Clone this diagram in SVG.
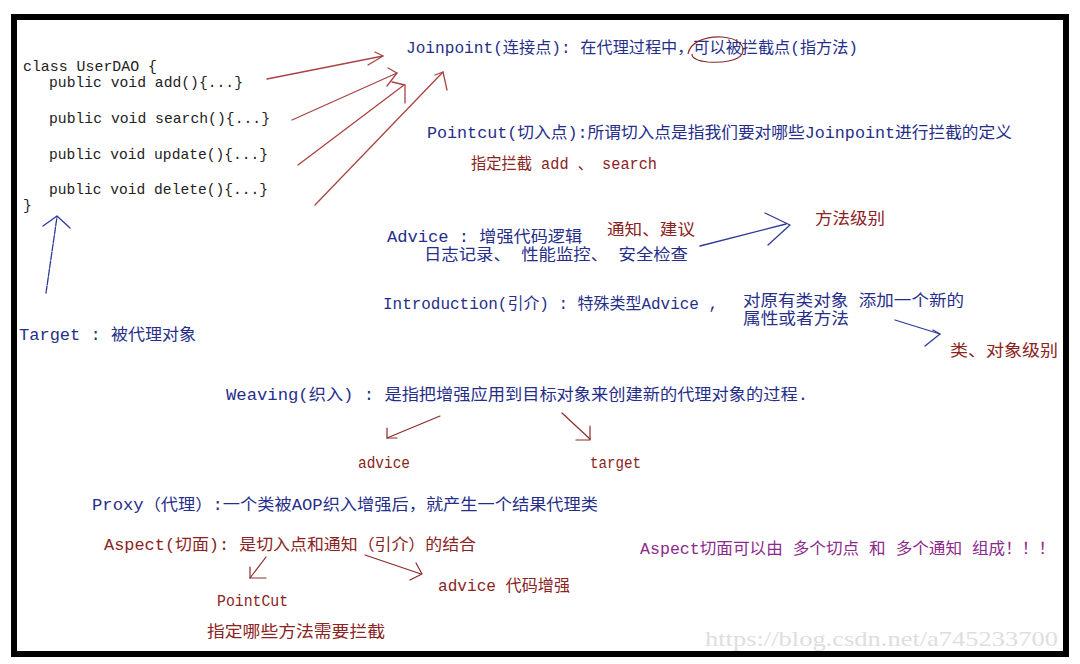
<svg xmlns="http://www.w3.org/2000/svg" width="1080" height="664" viewBox="0 0 1080 664">
<defs>
<style>
text { font-family: "Liberation Mono", "Noto Sans CJK SC", monospace; font-size: 16px; }
.code { font-size: 14.6px; fill: #222; }
.blue { fill: #262e8a; }
.red { fill: #8b2323; }
.purple { fill: #8b2a8b; }
.wm { font-family: "Liberation Serif", serif; font-size: 22px; fill: #dedede; }
.ar { fill: none; stroke: #a84444; stroke-width: 1.3; stroke-linecap: round; stroke-linejoin: round; }
.ab { fill: none; stroke: #2e3a94; stroke-width: 1.3; stroke-linecap: round; stroke-linejoin: round; }
.ad { fill: none; stroke: #8b2a2a; stroke-width: 1.2; stroke-linecap: round; stroke-linejoin: round; }
</style>
</defs>
<rect x="0" y="0" width="1080" height="664" fill="#ffffff"/>
<rect id="frame" x="14" y="17" width="1052" height="637" fill="#ffffff" stroke="#000000" stroke-width="6"/>

<g id="userdao">
<text class="code" x="23" y="71" textLength="134" lengthAdjust="spacingAndGlyphs">class UserDAO {</text>
<text class="code" x="49" y="87" textLength="194" lengthAdjust="spacingAndGlyphs">public void add(){...}</text>
<text class="code" x="49" y="123" textLength="221" lengthAdjust="spacingAndGlyphs">public void search(){...}</text>
<text class="code" x="49" y="159" textLength="219" lengthAdjust="spacingAndGlyphs">public void update(){...}</text>
<text class="code" x="49" y="194" textLength="219" lengthAdjust="spacingAndGlyphs">public void delete(){...}</text>
<text class="code" x="23" y="210">}</text>
</g>

<g id="joinpoint">
<text class="blue" x="406" y="53" textLength="452" lengthAdjust="spacingAndGlyphs">Joinpoint(连接点): 在代理过程中，可以被拦截点(指方法)</text>
<path d="M688 54 C690 42 706 36 722 37 C738 38 746 46 742 54 C738 61 722 63 708 62 C698 61 692 58 692 54" fill="none" stroke="#8b2a2a" stroke-width="1.2"/>
</g>

<g id="pointcut">
<text class="blue" x="427" y="138" textLength="585" lengthAdjust="spacingAndGlyphs">Pointcut(切入点):所谓切入点是指我们要对哪些Joinpoint进行拦截的定义</text>
<text class="red" x="471" y="169" textLength="186" lengthAdjust="spacingAndGlyphs">指定拦截 add 、 search</text>
</g>

<g id="advice">
<text class="blue" x="387" y="242" textLength="195" lengthAdjust="spacingAndGlyphs">Advice :  增强代码逻辑</text>
<text class="red" x="607" y="235" textLength="88" lengthAdjust="spacingAndGlyphs">通知、建议</text>
<text class="blue" x="424" y="260" textLength="264" lengthAdjust="spacingAndGlyphs">日志记录、 性能监控、 安全检查</text>
<text class="red" x="815" y="224" textLength="70" lengthAdjust="spacingAndGlyphs">方法级别</text>
</g>

<g id="introduction">
<text class="blue" x="383" y="309" textLength="335" lengthAdjust="spacingAndGlyphs">Introduction(引介) :  特殊类型Advice ,</text>
<text class="blue" x="743" y="306" textLength="221" lengthAdjust="spacingAndGlyphs">对原有类对象 添加一个新的</text>
<text class="blue" x="743" y="324" textLength="106" lengthAdjust="spacingAndGlyphs">属性或者方法</text>
<text class="red" x="950" y="356" textLength="108" lengthAdjust="spacingAndGlyphs">类、对象级别</text>
</g>

<g id="target">
<text class="blue" x="19" y="340" textLength="177" lengthAdjust="spacingAndGlyphs">Target :  被代理对象</text>
</g>

<g id="weaving">
<text class="blue" x="226" y="400" textLength="582" lengthAdjust="spacingAndGlyphs">Weaving(织入) :  是指把增强应用到目标对象来创建新的代理对象的过程.</text>
<text class="red" x="358" y="468" textLength="52" lengthAdjust="spacingAndGlyphs">advice</text>
<text class="red" x="590" y="468" textLength="51" lengthAdjust="spacingAndGlyphs">target</text>
</g>

<g id="proxy">
<text class="blue" x="92" y="510" textLength="506" lengthAdjust="spacingAndGlyphs">Proxy（代理）:一个类被AOP织入增强后，就产生一个结果代理类</text>
</g>

<g id="aspect">
<text class="red" x="104" y="550" textLength="372" lengthAdjust="spacingAndGlyphs">Aspect(切面): 是切入点和通知（引介）的结合</text>
<text class="red" x="438" y="591" textLength="132" lengthAdjust="spacingAndGlyphs">advice 代码增强</text>
<text class="red" x="217" y="606" textLength="71" lengthAdjust="spacingAndGlyphs">PointCut</text>
<text class="red" x="207" y="637" textLength="178" lengthAdjust="spacingAndGlyphs">指定哪些方法需要拦截</text>
</g>

<g id="aspect-note">
<text class="purple" x="640" y="554" textLength="415" lengthAdjust="spacingAndGlyphs">Aspect切面可以由 多个切点 和 多个通知 组成！！！</text>
</g>

<g id="watermark">
<text class="wm" x="705" y="646" textLength="353" lengthAdjust="spacingAndGlyphs">https://blog.csdn.net/a745233700</text>
</g>

<g id="connectors">
<line class="ar" x1="267" y1="79" x2="383" y2="56"/>
<polyline class="ar" points="375,52 383,56 368,65"/>
<line class="ar" x1="292" y1="120" x2="397" y2="73"/>
<polyline class="ar" points="388,68 397,73 387,86"/>
<line class="ar" x1="298" y1="165" x2="404" y2="85"/>
<polyline class="ar" points="392,82 405,85 405,103"/>
<line class="ar" x1="315" y1="205" x2="443" y2="72"/>
<polyline class="ar" points="435,75 443,72 447,90"/>

<line class="ab" x1="46" y1="293" x2="57" y2="217" stroke-dasharray="7 1.5"/>
<polyline class="ab" points="43,226 57,216 70,228"/>
<line class="ab" x1="700" y1="246" x2="786" y2="224"/>
<polyline class="ab" points="765,213 790,225 768,245"/>
<line class="ab" x1="895" y1="320" x2="940" y2="334"/>
<polyline class="ab" points="933,330 940,334 925,346"/>

<line class="ad" x1="440" y1="416" x2="387" y2="438"/>
<polyline class="ad" points="387,428 387,438 397,438"/>
<line class="ad" x1="562" y1="413" x2="590" y2="439"/>
<polyline class="ad" points="590,426 590,440 576,440"/>
<line class="ad" x1="266" y1="557" x2="250" y2="578"/>
<polyline class="ad" points="250,567 250,578 266,578"/>
<line class="ad" x1="365" y1="555" x2="421" y2="574"/>
<polyline class="ad" points="416,563 422,574 410,580"/>
</g>
</svg>
